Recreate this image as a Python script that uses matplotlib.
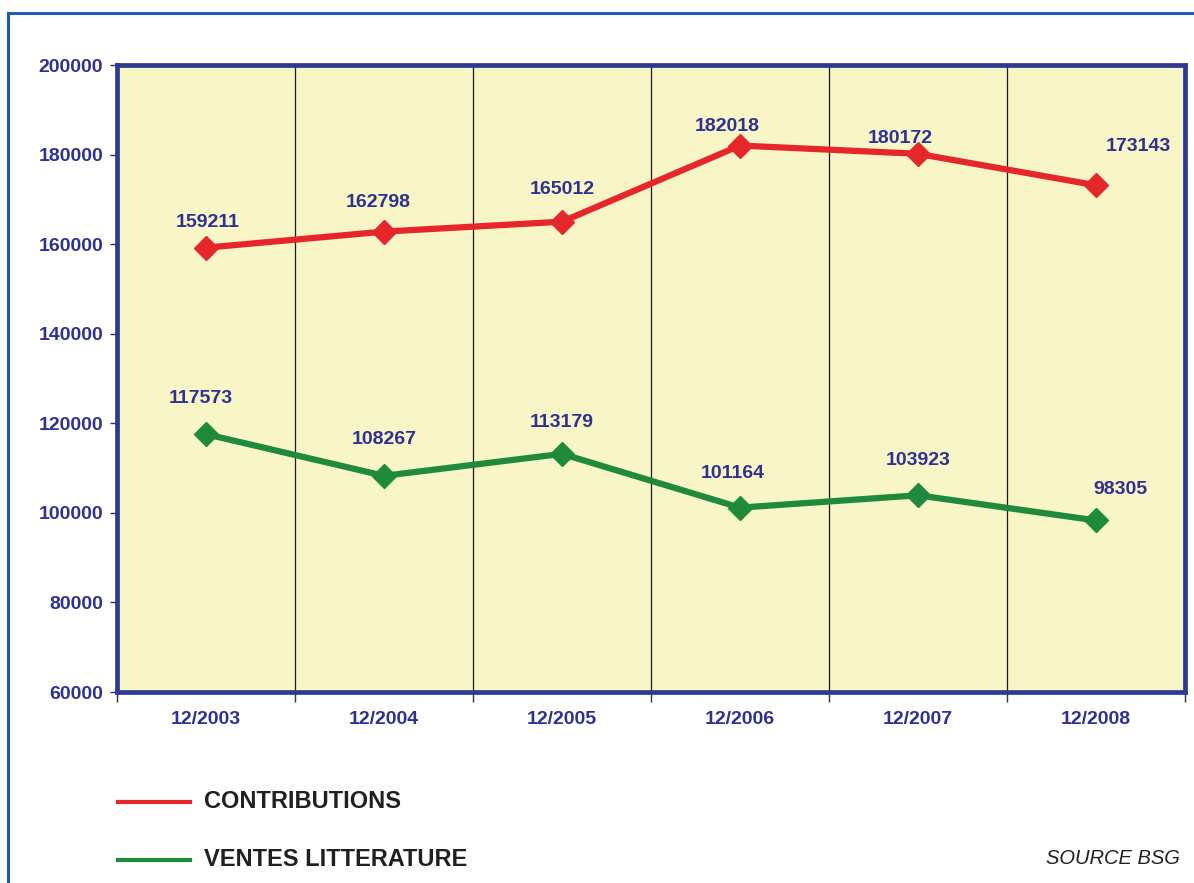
import matplotlib
matplotlib.use("Agg")
import matplotlib.pyplot as plt
from matplotlib.lines import Line2D
from matplotlib.ticker import MultipleLocator

# ---- data ----
categories = ["12/2003", "12/2004", "12/2005", "12/2006", "12/2007", "12/2008"]
contributions = [159211, 162798, 165012, 182018, 180172, 173143]
ventes = [117573, 108267, 113179, 101164, 103923, 98305]
series_names = ["CONTRIBUTIONS", "VENTES LITTERATURE"]
source_text = "SOURCE BSG"

# ---- layout (label offsets in pixels: dx, dy up) ----
contrib_offsets = [(2, 25), (-6, 29), (0, 32), (-13, 19), (-18, 15), (42, 39)]
ventes_offsets = [(-5, 36), (0, 36), (0, 31), (-7, 34), (0, 35), (24, 31)]

plt.rcParams['font.family'] = ['Liberation Sans', 'DejaVu Sans']

W, H = 1194, 883
fig = plt.figure(figsize=(W / 100, H / 100), dpi=100)
fig.patch.set_facecolor("white")

ax_l, ax_r, ax_t, ax_b = 117, 1185, 65, 692
ax = fig.add_axes([ax_l / W, 1 - ax_b / H, (ax_r - ax_l) / W, (ax_b - ax_t) / H])
ax.set_facecolor("#F8F5C6")

label_blue = "#2E3192"
spine_blue = "#2E3A92"
red = "#E5262A"
green = "#1F8A3C"

x = list(range(len(categories)))
ax.plot(x, contributions, color=red, lw=4.5, marker="D", ms=12,
        markerfacecolor=red, markeredgecolor=red, zorder=4, solid_joinstyle="miter")
ax.plot(x, ventes, color=green, lw=4.5, marker="D", ms=12,
        markerfacecolor=green, markeredgecolor=green, zorder=4, solid_joinstyle="miter")

for xi, v, (dx, dy) in zip(x, contributions, contrib_offsets):
    ax.annotate(f"{v}", (xi, v), xytext=(dx * 0.72, dy * 0.72), textcoords="offset points",
                ha="center", va="center", fontsize=14, fontweight="bold", color=label_blue, zorder=5)
for xi, v, (dx, dy) in zip(x, ventes, ventes_offsets):
    ax.annotate(f"{v}", (xi, v), xytext=(dx * 0.72, dy * 0.72), textcoords="offset points",
                ha="center", va="center", fontsize=14, fontweight="bold", color=label_blue, zorder=5)

ax.set_xlim(-0.5, len(categories) - 0.5)
ax.set_ylim(60000, 200000)
ax.yaxis.set_major_locator(MultipleLocator(20000))
ax.tick_params(axis="y", which="major", length=5, width=1, color="#333333", direction="out",
               labelsize=14, labelcolor=label_blue, pad=5)
for lab in ax.get_yticklabels():
    lab.set_fontweight("bold")

# x: category labels at centers (no ticks), tick marks at boundaries
ax.set_xticks(x)
ax.set_xticklabels(categories, fontsize=14, fontweight="bold", color=label_blue)
ax.tick_params(axis="x", which="major", length=0, pad=14)
ax.set_xticks([i + 0.5 for i in range(-1, len(categories))], minor=True)
ax.tick_params(axis="x", which="minor", length=7, width=1, color="#333333", direction="out")

for b in [i + 0.5 for i in range(len(categories) - 1)]:
    ax.axvline(b, color="#1a1a1a", lw=0.9, zorder=1)

for s in ax.spines.values():
    s.set_color(spine_blue)
    s.set_linewidth(3.4)
    s.set_zorder(6)

# outer frame (top and left)
fig.add_artist(Line2D([8 / W, 8 / W], [0, 1 - 13 / H], transform=fig.transFigure,
                      color="#1F5BB5", lw=2.2))
fig.add_artist(Line2D([8 / W, 1], [1 - 13 / H, 1 - 13 / H], transform=fig.transFigure,
                      color="#1F5BB5", lw=2.2))

# legend
for name, col, yy in [(series_names[0], red, 802), (series_names[1], green, 860)]:
    fig.add_artist(Line2D([118 / W, 190 / W], [1 - yy / H, 1 - yy / H], transform=fig.transFigure,
                          color=col, lw=3))
    fig.text(204 / W, 1 - (yy - 1) / H, name, ha="left", va="center", fontsize=17,
             fontweight="bold", color="#231F20")

fig.text(1180 / W, 1 - 859 / H, source_text, ha="right", va="center", fontsize=14.5,
         fontstyle="italic", color="#231F20")

fig.savefig("out.png", dpi=100, facecolor="white")
